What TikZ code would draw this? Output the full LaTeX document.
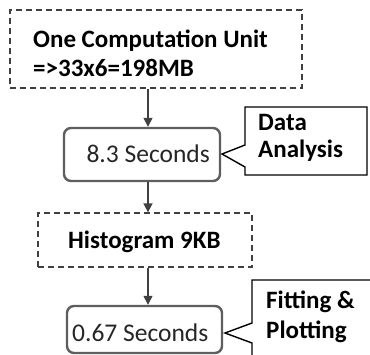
\documentclass[tikz,border=0pt]{standalone}
\usepackage{fontspec}
\setmainfont{Carlito}
\usetikzlibrary{arrows.meta}
\definecolor{linegray}{HTML}{404040}
\definecolor{boxgray}{HTML}{5E5E5E}
\tikzset{
  databox/.style={draw=linegray, line width=1.3pt, dash pattern=on 6pt off 4pt, inner sep=0pt},
  timebox/.style={draw=boxgray, line width=2.4pt, rounded corners=7pt, inner sep=0pt},
  flow/.style={draw=linegray, line width=1.5pt, -{Triangle[length=9pt,width=9pt]}},
  callout/.style={draw=black, line width=1.4pt, fill=white},
  boldtxt/.style={font=\bfseries\fontsize{25}{30}\selectfont, inner sep=0pt},
  plaintxt/.style={font=\fontsize{25.5}{30}\selectfont, inner sep=0pt, text=black!85}
}
\begin{document}
\begin{tikzpicture}[x=1pt,y=-1pt]
\useasboundingbox (0,0) rectangle (370,354);
\begin{scope}
\clip (0,0) rectangle (370,354);
% data volumes (dashed) and processing times (rounded)
\node[databox, minimum width=292pt, minimum height=78pt] (unit) at (156,49) {};
\node[boldtxt, anchor=base west] (unitA) at (33,47) {One Computation Unit};
\node[boldtxt, anchor=base west] (unitB) at (33,76) {=>33x6=198MB};
\node[timebox, minimum width=156pt, minimum height=53pt] (analysis) at (142,154.5) {};
\node[plaintxt, anchor=base east] (analysistext) at (210,162) {8.3 Seconds};
\node[databox, minimum width=214pt, minimum height=54pt] (hist) at (145,240) {};
\node[boldtxt, anchor=base west] (histtext) at (68,248) {Histogram 9KB};
\node[timebox, minimum width=155pt, minimum height=47pt] (fit) at (144.5,329.5) {};
\node[plaintxt, anchor=base west] (fittext) at (72,341) {0.67 Seconds};
% flow arrows
\draw[flow] (unit.south -| analysis.north) ++(6,0) coordinate (u0) -- (u0 |- analysis.north);
\draw[flow] (u0 |- analysis.south) -- (u0 |- hist.north);
\draw[flow] (u0 |- hist.south) -- (u0 |- fit.north);
% callouts
\coordinate (tipA) at (222,154);
\draw[callout] (245,107) -- (367,107) -- (367,175) -- (245,175) -- (245,167) -- (tipA) -- (245,145) -- cycle;
\node[boldtxt, anchor=base west] (labelA1) at (258,130) {Data};
\node[boldtxt, anchor=base west] (labelA2) at (258,157) {Analysis};
\coordinate (tipB) at (225,333);
\draw[callout] (252,280) -- (374,280) -- (374,360) -- (252,360) -- (252,343) -- (tipB) -- (252,323) -- cycle;
\node[boldtxt, anchor=base west] (labelB1) at (266,308) {Fitting \&};
\node[boldtxt, anchor=base west] (labelB2) at (266,338) {Plotting};
\end{scope}
\end{tikzpicture}
\end{document}
